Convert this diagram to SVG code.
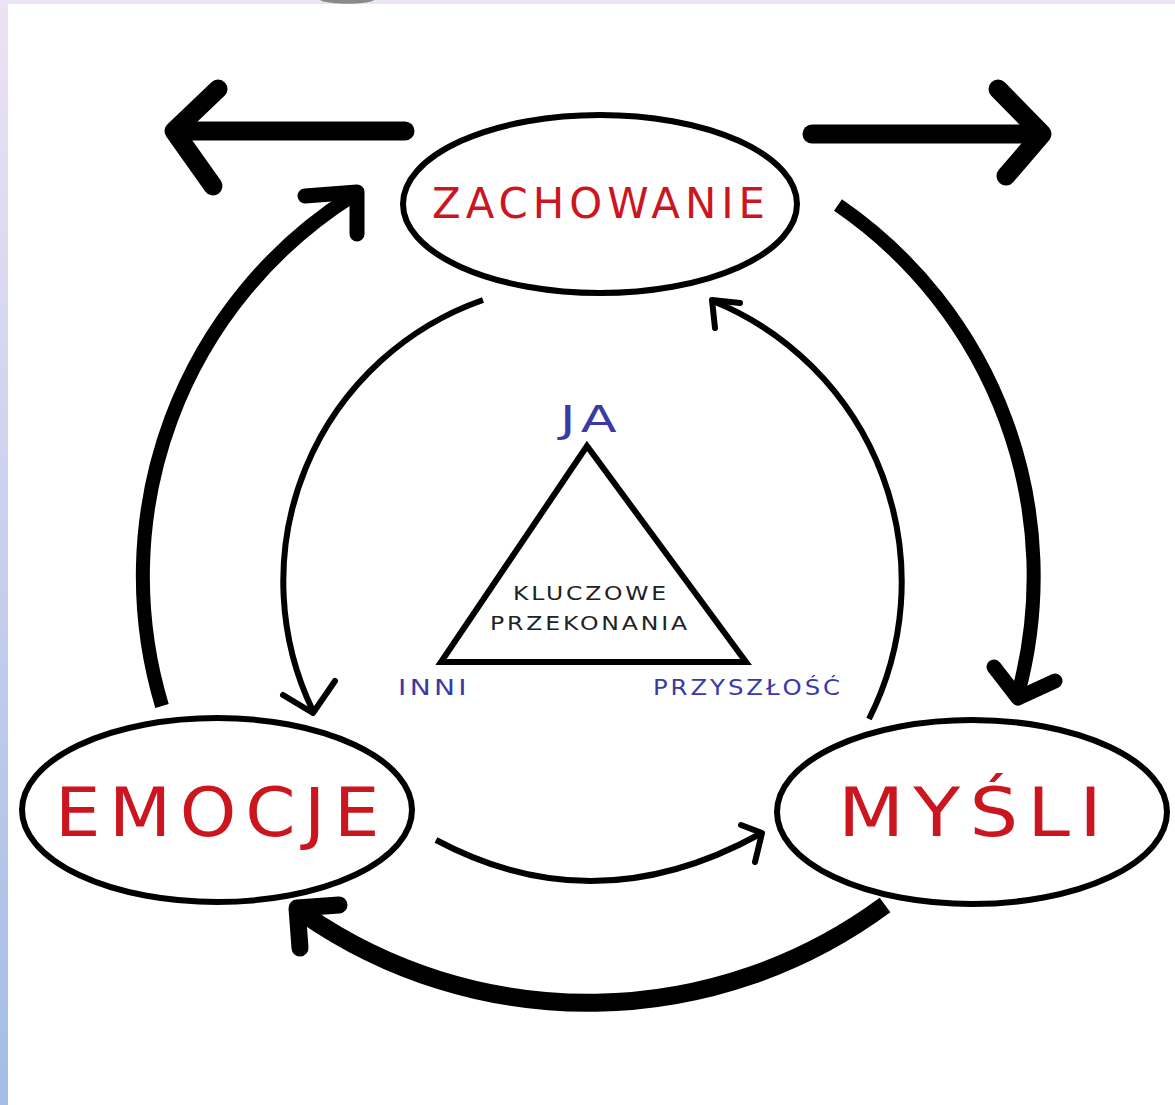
<svg xmlns="http://www.w3.org/2000/svg" width="1175" height="1105" viewBox="0 0 1175 1105">
<defs>
<linearGradient id="side" x1="0" y1="0" x2="0" y2="1">
<stop offset="0" stop-color="#ece2f4"/>
<stop offset="1" stop-color="#a3bde6"/>
</linearGradient>
<style>
.node{fill:#fff;stroke:#000;stroke-width:6}
text{letter-spacing:0.12em}
.big{font-family:"DejaVu Sans","Liberation Sans",sans-serif;fill:#cc161f}
.blue{font-family:"DejaVu Sans","Liberation Sans",sans-serif;fill:#3a3aa6}
.dark{font-family:"DejaVu Sans","Liberation Sans",sans-serif;fill:#222}
.thick{fill:none;stroke:#000;stroke-linecap:butt}
.head{fill:none;stroke:#000;stroke-linecap:round;stroke-linejoin:round}
.thin{fill:none;stroke:#000;stroke-width:6}
</style>
</defs>
<rect x="0" y="0" width="1175" height="1105" fill="#fff"/>
<rect x="0" y="0" width="1175" height="4" fill="#ece4f4"/>
<rect x="0" y="0" width="8" height="1105" fill="url(#side)"/>
<path d="M320,0 L374,0 C368,5 328,5 320,0 Z" fill="#8a8a8a"/>

<g id="connectors">
<line x1="405" y1="131" x2="182" y2="131" class="head" stroke-width="19"/>
<polyline points="218,89 174,131 213,186" class="head" stroke-width="19"/>
<line x1="812" y1="134" x2="1034" y2="134" class="head" stroke-width="19"/>
<polyline points="998,89 1042,134 1006,176" class="head" stroke-width="19"/>

<path d="M162,706 A450,450 0 0 1 352,196" class="thick" stroke-width="14"/>
<polyline points="305,196 357,192 357,234" class="head" stroke-width="15"/>

<path d="M838,205 A450,450 0 0 1 1018,694" class="thick" stroke-width="14"/>
<polyline points="994,667 1018,698 1055,681" class="head" stroke-width="15"/>

<path d="M885,905 A499,499 0 0 1 304,914" class="thick" stroke-width="18"/>
<polyline points="339,905 297,908 300,948" class="head" stroke-width="17"/>

<path d="M483,300 A298,298 0 0 0 313,711" class="thin"/>
<polyline points="283,695 313,713 335,681" class="head" stroke-width="6"/>

<path d="M869,719 A303.5,303.5 0 0 0 713,301" class="thin"/>
<polyline points="715,328 712,300 740,303" class="head" stroke-width="6"/>

<path d="M436,840 Q595,925 760,834" class="thin"/>
<polyline points="741,825 762,833 755,862" class="head" stroke-width="6"/>
</g>

<g id="zachowanie">
<ellipse cx="600" cy="204" rx="197" ry="89" class="node"/>
<text x="432" y="218" class="big" font-size="42" textLength="338" lengthAdjust="spacingAndGlyphs">ZACHOWANIE</text>
</g>
<g id="emocje">
<ellipse cx="217" cy="810" rx="195" ry="92" class="node"/>
<text x="55" y="836" class="big" font-size="67" textLength="333" lengthAdjust="spacingAndGlyphs">EMOCJE</text>
</g>
<g id="mysli">
<ellipse cx="972" cy="812" rx="195" ry="92" class="node"/>
<text x="838" y="836" class="big" font-size="67" textLength="273" lengthAdjust="spacingAndGlyphs">MYŚLI</text>
</g>

<g id="triangle">
<polygon points="587,446 441,662 746,662" fill="none" stroke="#000" stroke-width="6" stroke-linejoin="miter"/>
<text x="560" y="432" class="blue" font-size="38" textLength="63" lengthAdjust="spacingAndGlyphs">JA</text>
<text x="513" y="600" class="dark" font-size="20" textLength="156" lengthAdjust="spacingAndGlyphs">KLUCZOWE</text>
<text x="490" y="630" class="dark" font-size="20" textLength="200" lengthAdjust="spacingAndGlyphs">PRZEKONANIA</text>
<text x="398" y="695" class="blue" font-size="22" textLength="72" lengthAdjust="spacingAndGlyphs">INNI</text>
<text x="653" y="695" class="blue" font-size="22" textLength="190" lengthAdjust="spacingAndGlyphs">PRZYSZŁOŚĆ</text>
</g>
</svg>
